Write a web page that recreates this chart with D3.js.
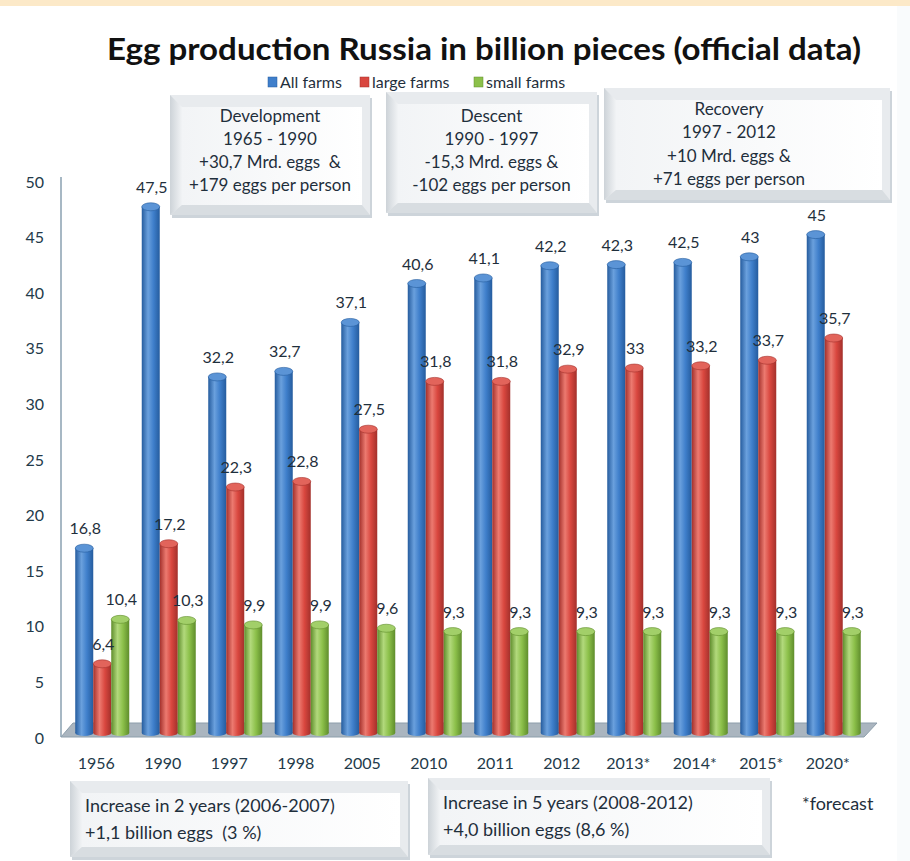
<!DOCTYPE html>
<html><head><meta charset="utf-8">
<script src="https://cdn.jsdelivr.net/npm/d3@7"></script>
<style>
html,body{margin:0;padding:0;background:#fff;}
svg{display:block;font-family:Lato,"Open Sans",sans-serif;}
</style></head>
<body><svg id="c" width="910" height="861"></svg>
<script>
const categories = ["1956","1990","1997","1998","2005","2010","2011","2012","2013*","2014*","2015*","2020*"];
const allFarms   = [16.8,47.5,32.2,32.7,37.1,40.6,41.1,42.2,42.3,42.5,43,45];
const largeFarms = [6.4,17.2,22.3,22.8,27.5,31.8,31.8,32.9,33,33.2,33.7,35.7];
const smallFarms = [10.4,10.3,9.9,9.9,9.6,9.3,9.3,9.3,9.3,9.3,9.3,9.3];
const seriesNames = ["All farms","large farms","small farms"];
const yTicks = [0,5,10,15,20,25,30,35,40,45,50];
const title = "Egg production Russia in billion pieces (official data)";
const topBoxes = [
  ["Development","1965 - 1990","+30,7 Mrd. eggs  &","+179 eggs per person"],
  ["Descent","1990 - 1997","-15,3 Mrd. eggs &","-102 eggs per person"],
  ["Recovery","1997 - 2012","+10 Mrd. eggs &","+71 eggs per person"]
];
const bottomBoxes = [
  ["Increase in 2 years (2006-2007)","+1,1 billion eggs  (3 %)"],
  ["Increase in 5 years (2008-2012)","+4,0 billion eggs (8,6 %)"]
];
const footnote = "*forecast";

const colors = {
  "All farms":  {dark:"#255c9e", mid:"#3f7fcb", light:"#6aa0dd", top:"#5b94d6"},
  "large farms":{dark:"#a3302b", mid:"#d9473f", light:"#ec7a70", top:"#e2645b"},
  "small farms":{dark:"#5f8d2c", mid:"#8cc04a", light:"#b2d97c", top:"#a2cf69"}
};
const svg = d3.select("#c");
const defs = svg.append("defs");
Object.entries(colors).forEach(([k,c],i)=>{
  const g = defs.append("linearGradient").attr("id","cyl"+i).attr("x1","0").attr("x2","1").attr("y1","0").attr("y2","0");
  g.append("stop").attr("offset","0%").attr("stop-color",c.dark);
  g.append("stop").attr("offset","35%").attr("stop-color",c.light);
  g.append("stop").attr("offset","65%").attr("stop-color",c.mid);
  g.append("stop").attr("offset","100%").attr("stop-color",c.dark);
});
const bg = defs.append("linearGradient").attr("id","boxg").attr("x1","0").attr("x2","1").attr("y1","0").attr("y2","0");
bg.append("stop").attr("offset","0%").attr("stop-color","#f2f4f6");
bg.append("stop").attr("offset","100%").attr("stop-color","#ffffff");
const bev = defs.append("linearGradient").attr("id","bevL").attr("x1","0").attr("x2","1");
bev.append("stop").attr("offset","0%").attr("stop-color","#cdd3d8");
bev.append("stop").attr("offset","100%").attr("stop-color","#f1f3f5");

// background
svg.append("rect").attr("x",0).attr("y",0).attr("width",910).attr("height",861).attr("fill","#ffffff");
svg.append("rect").attr("x",0).attr("y",0).attr("width",910).attr("height",6).attr("fill","#fce9c8");
svg.append("rect").attr("x",897).attr("y",6).attr("width",13).attr("height",855).attr("fill","#f9fbfc");

// scales
const y = d3.scaleLinear().domain([0,50]).range([738,182]);
const x0 = d3.scaleBand().domain(categories).range([69,867]).paddingInner(0.188).paddingOuter(0.094);
const x1 = d3.scaleBand().domain(seriesNames).range([0,x0.bandwidth()]);
const depth = 3;
const floorY = 733;

// floor
svg.append("polygon")
  .attr("points",[[61,737],[73,723],[877,723],[864,737]].map(p=>p.join(",")).join(" "))
  .attr("fill","#aab5bf").attr("stroke","#8d9eab").attr("stroke-width",1);

// y axis line
svg.append("line").attr("x1",61).attr("x2",61).attr("y1",177).attr("y2",737).attr("stroke","#8aa0b0").attr("stroke-width",1.5);
const yAxis = svg.append("g").attr("transform","translate(61,0)")
  .call(d3.axisLeft(y).tickValues(yTicks).tickSize(0).tickPadding(17));
yAxis.select(".domain").remove();
yAxis.selectAll("text").attr("font-size",16).attr("fill","#233a4a").attr("font-family","Lato, sans-serif");

// bars
const rows = categories.map((c,i)=>({cat:c, vals:[allFarms[i],largeFarms[i],smallFarms[i]]}));
const fmt = v => String(v).replace(".",",");
const groups = svg.append("g").selectAll("g").data(rows).join("g")
  .attr("transform",d=>`translate(${x0(d.cat)},0)`);
seriesNames.forEach((s,si)=>{
  const w = x1.bandwidth();
  const bx = x1(s);
  groups.append("rect")
    .attr("x",bx).attr("width",w)
    .attr("y",d=>y(d.vals[si])-depth)
    .attr("height",d=>floorY - (y(d.vals[si])-depth))
    .attr("fill",`url(#cyl${si})`);
  groups.append("ellipse")
    .attr("cx",bx+w/2).attr("cy",floorY).attr("rx",w/2).attr("ry",3)
    .attr("fill",`url(#cyl${si})`);
  groups.append("ellipse")
    .attr("cx",bx+w/2).attr("cy",d=>y(d.vals[si])-depth).attr("rx",w/2).attr("ry",4)
    .attr("fill",colors[s].top).attr("stroke",colors[s].dark).attr("stroke-width",0.6);
});
seriesNames.forEach((s,si)=>{
  const w = x1.bandwidth();
  groups.append("text")
    .attr("x",x1(s)+w/2+1)
    .attr("y",d=>y(d.vals[si])-depth-4-10)
    .attr("text-anchor","middle").attr("font-size",16).attr("fill","#1f2f3c")
    .text(d=>fmt(d.vals[si]));
});

// x axis
const xAxis = svg.append("g").attr("transform","translate(-6,755)")
  .call(d3.axisBottom(x0).tickSize(0).tickPadding(3));
xAxis.select(".domain").remove();
xAxis.selectAll("text").attr("font-size",16).attr("fill","#233a4a").attr("font-family","Lato, sans-serif");

// title
svg.append("text").attr("x",484).attr("y",60).attr("text-anchor","middle")
  .attr("font-size",31).attr("font-weight","bold").attr("fill","#111")
  .attr("textLength",754).attr("lengthAdjust","spacingAndGlyphs")
  .text(title);

// legend
const legX = [268,360,474];
seriesNames.forEach((s,i)=>{
  const g = svg.append("g").attr("transform",`translate(${legX[i]},77)`);
  g.append("rect").attr("width",9).attr("height",10).attr("fill",colors[s].mid).attr("stroke",colors[s].dark).attr("stroke-width",0.5);
  g.append("text").attr("x",12).attr("y",11).attr("font-size",16).attr("fill","#1f2f3c").text(s);
});

// boxes
function bevelBox(x,y0,w,h){
  const g = svg.append("g");
  g.append("rect").attr("x",x+2).attr("y",y0+3).attr("width",w).attr("height",h).attr("fill","#b8c2ca").attr("opacity",0.7);
  g.append("rect").attr("x",x).attr("y",y0).attr("width",w).attr("height",h).attr("fill","#e8ebee");
  g.append("polygon").attr("points",`${x},${y0} ${x+12},${y0+12} ${x+12},${y0+h-10} ${x},${y0+h}`).attr("fill","url(#bevL)");
  g.append("polygon").attr("points",`${x},${y0+h} ${x+12},${y0+h-10} ${x+w-8},${y0+h-10} ${x+w},${y0+h}`).attr("fill","#d8dde1");
  g.append("rect").attr("x",x+12).attr("y",y0+12).attr("width",w-20).attr("height",h-22).attr("fill","url(#boxg)");
  return g;
}
const topBoxGeom = [[170,95,200,120],[386,92,211,121],[604,88,286,112]];
const topLineY = [[122,145,168,191],[122,145,168,191],[115,138,162,185]];
topBoxes.forEach((lines,i)=>{
  const [bx,by,bw,bh] = topBoxGeom[i];
  bevelBox(bx,by,bw,bh);
  lines.forEach((t,j)=>{
    svg.append("text").attr("x",bx+bw/2+(i===2?-18:0)).attr("y",topLineY[i][j]).attr("text-anchor","middle")
      .attr("font-size",17).attr("fill","#1f2f3c").style("white-space","pre").text(t);
  });
});
const botBoxGeom = [[70,781,338,76],[428,778,342,77]];
bottomBoxes.forEach((lines,i)=>{
  const [bx,by,bw,bh] = botBoxGeom[i];
  bevelBox(bx,by,bw,bh);
  lines.forEach((t,j)=>{
    svg.append("text").attr("x",bx+15).attr("y",by+31+j*27).attr("font-size",18).attr("fill","#1f2f3c")
      .style("white-space","pre").text(t);
  });
});
svg.append("text").attr("x",802).attr("y",810).attr("font-size",18).attr("fill","#1f2f3c").text(footnote);
</script></body></html>
